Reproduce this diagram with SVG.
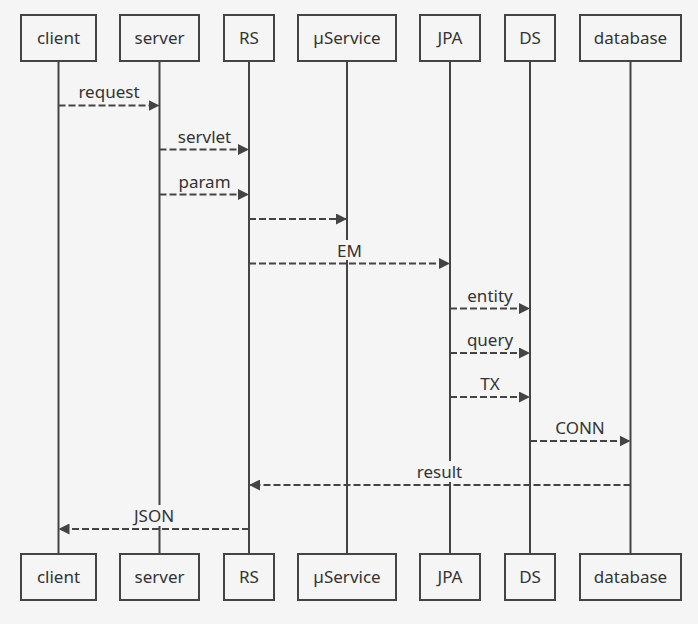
<svg xmlns="http://www.w3.org/2000/svg" width="698" height="624" viewBox="0 0 698 624">
<style>
.bg{fill:#f5f5f5}
.box{fill:#f5f5f5;stroke:#444;stroke-width:2}
.life{stroke:#444;stroke-width:2}
.t{font-family:"Noto Sans","Liberation Sans",sans-serif;font-size:17px;fill:#333;text-anchor:middle}
.msg{stroke:#444;stroke-width:2;stroke-dasharray:7,3;fill:none;marker-end:url(#ah)}
.lb{fill:#f5f5f5}
</style>
<defs>
<marker id="ah" markerUnits="userSpaceOnUse" markerWidth="11" markerHeight="11" refX="11" refY="5.5" orient="auto">
<path d="M0,0 L11,5.5 L0,11 z" fill="#444"/>
</marker>
</defs>
<rect class="bg" x="0" y="0" width="698" height="624"/>
<g id="lifelines">
<line class="life" x1="58.5" y1="61" x2="58.5" y2="554"/>
<line class="life" x1="159.5" y1="61" x2="159.5" y2="554"/>
<line class="life" x1="249" y1="61" x2="249" y2="554"/>
<line class="life" x1="347" y1="61" x2="347" y2="554"/>
<line class="life" x1="450" y1="61" x2="450" y2="554"/>
<line class="life" x1="530" y1="61" x2="530" y2="554"/>
<line class="life" x1="630.5" y1="61" x2="630.5" y2="554"/>
</g>
<g id="client"><rect class="box" x="21" y="15" width="75" height="46"/><text class="t" x="58.5" y="44">client</text><rect class="box" x="21" y="554" width="75" height="46"/><text class="t" x="58.5" y="583">client</text></g>
<g id="server"><rect class="box" x="120" y="15" width="79" height="46"/><text class="t" x="159.5" y="44">server</text><rect class="box" x="120" y="554" width="79" height="46"/><text class="t" x="159.5" y="583">server</text></g>
<g id="RS"><rect class="box" x="224" y="15" width="50" height="46"/><text class="t" x="249" y="44">RS</text><rect class="box" x="224" y="554" width="50" height="46"/><text class="t" x="249" y="583">RS</text></g>
<g id="uService"><rect class="box" x="298" y="15" width="98" height="46"/><text class="t" x="347" y="44">µService</text><rect class="box" x="298" y="554" width="98" height="46"/><text class="t" x="347" y="583">µService</text></g>
<g id="JPA"><rect class="box" x="420" y="15" width="60" height="46"/><text class="t" x="450" y="44">JPA</text><rect class="box" x="420" y="554" width="60" height="46"/><text class="t" x="450" y="583">JPA</text></g>
<g id="DS"><rect class="box" x="505" y="15" width="50" height="46"/><text class="t" x="530" y="44">DS</text><rect class="box" x="505" y="554" width="50" height="46"/><text class="t" x="530" y="583">DS</text></g>
<g id="database"><rect class="box" x="580" y="15" width="101" height="46"/><text class="t" x="630.5" y="44">database</text><rect class="box" x="580" y="554" width="101" height="46"/><text class="t" x="630.5" y="583">database</text></g>
<g id="connectors">
<line class="msg" x1="58.5" y1="105.5" x2="159.5" y2="105.5"/>
<text class="t" x="109" y="98">request</text>
<line class="msg" x1="159.5" y1="149.5" x2="249" y2="149.5"/>
<text class="t" x="204.5" y="142.5">servlet</text>
<line class="msg" x1="159.5" y1="194.5" x2="249" y2="194.5"/>
<text class="t" x="204.5" y="187.5">param</text>
<line class="msg" x1="249" y1="219" x2="347" y2="219"/>
<line class="msg" x1="249" y1="263.5" x2="450" y2="263.5"/>
<rect class="lb" x="337" y="240" width="24" height="20"/>
<text class="t" x="349.5" y="256.5">EM</text>
<line class="msg" x1="450" y1="308.5" x2="530" y2="308.5"/>
<text class="t" x="490" y="301.5">entity</text>
<line class="msg" x1="450" y1="353" x2="530" y2="353"/>
<text class="t" x="490" y="346">query</text>
<line class="msg" x1="450" y1="397" x2="530" y2="397"/>
<text class="t" x="490" y="390">TX</text>
<line class="msg" x1="530" y1="441" x2="630.5" y2="441"/>
<text class="t" x="580" y="434">CONN</text>
<line class="msg" x1="630.5" y1="485" x2="249" y2="485"/>
<rect class="lb" x="416" y="461" width="47" height="21"/>
<text class="t" x="439.5" y="478">result</text>
<line class="msg" x1="249" y1="529" x2="58.5" y2="529"/>
<rect class="lb" x="131" y="505" width="45" height="21"/>
<text class="t" x="154" y="522">JSON</text>
</g>
</svg>
